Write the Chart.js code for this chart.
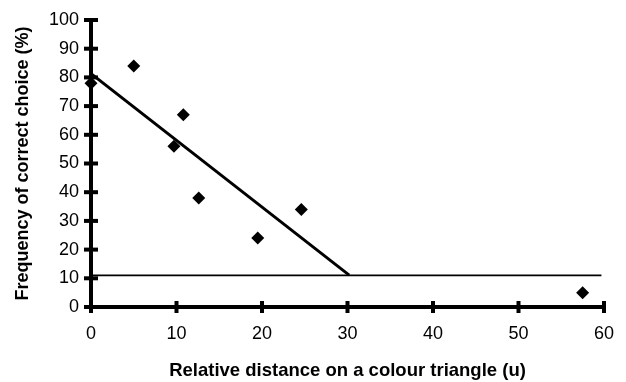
<!DOCTYPE html>
<html>
<head>
<meta charset="utf-8">
<script src="https://cdn.jsdelivr.net/npm/chart.js@4"></script>
<style>
  html, body { margin: 0; padding: 0; background: #fff; }
  #wrap { width: 626px; height: 382px; }
</style>
</head>
<body>
<div id="wrap"><canvas id="graphe"></canvas></div>
<script>
// values
const distances = [0, 5, 10.8, 9.7, 12.6, 19.5, 24.6, 57.5]
const frequences = [78, 84, 67, 56, 38, 24, 34, 5]
const regressionX = [0, 30.2]
const regressionY = [81.3, 11.1]
const hasardX = [0, 59.7]
const hasardY = [11, 11]
const ticksX = [0, 10, 20, 30, 40, 50, 60]
const ticksY = [0, 10, 20, 30, 40, 50, 60, 70, 80, 90, 100]

const versPoints = (xs, ys) => xs.map((x, i) => ({x: x, y: ys[i]}))

// tick marks that cross the axis line on both sides
const croixAxes = {
    id: 'croixAxes',
    afterDatasetsDraw(chart) {
        const ctx = chart.ctx
        const sx = chart.scales.x
        const sy = chart.scales.y
        const y0 = sy.getPixelForValue(0)
        const x0 = sx.getPixelForValue(0)
        ctx.save()
        ctx.strokeStyle = '#000'
        ctx.lineWidth = 4
        ticksX.forEach(v => {
            const px = sx.getPixelForValue(v)
            ctx.beginPath()
            ctx.moveTo(px, y0 - 6)
            ctx.lineTo(px, y0 + 6)
            ctx.stroke()
        })
        ticksY.forEach(v => {
            const py = sy.getPixelForValue(v)
            ctx.beginPath()
            ctx.moveTo(x0 - 7, py)
            ctx.lineTo(x0 + 7, py)
            ctx.stroke()
        })
        ctx.restore()
    }
}

Chart.defaults.font.family = "'Liberation Sans', Arial, sans-serif"
Chart.defaults.color = '#000'

new Chart(document.getElementById('graphe'), {
    type: 'scatter',
    data: {
        datasets: [
            {
                data: versPoints(distances, frequences),
                pointStyle: 'rectRot',
                pointRadius: 6.5,
                backgroundColor: '#000',
                borderColor: '#000',
                borderWidth: 0,
                clip: false
            },
            {
                data: versPoints(regressionX, regressionY),
                showLine: true,
                pointRadius: 0,
                borderColor: '#000',
                borderWidth: 3,
                clip: false
            },
            {
                data: versPoints(hasardX, hasardY),
                showLine: true,
                pointRadius: 0,
                borderColor: '#000',
                borderWidth: 1.8,
                clip: false
            }
        ]
    },
    options: {
        responsive: true,
        maintainAspectRatio: false,
        animation: false,
        layout: { padding: { top: 20, right: 22, left: 0, bottom: 0 } },
        plugins: { legend: { display: false }, tooltip: { enabled: false } },
        scales: {
            x: {
                type: 'linear',
                min: 0,
                max: 60,
                afterFit: s => { s.height = 75; s.paddingRight = 0; s.paddingLeft = 0 },
                afterBuildTicks: s => { s.ticks = ticksX.map(v => ({value: v})) },
                grid: { display: false, drawTicks: false },
                border: { display: true, color: '#000', width: 4 },
                ticks: { padding: 16, font: { size: 18 } },
                title: {
                    display: true,
                    text: 'Relative distance on a colour triangle (u)',
                    font: { size: 18.5, weight: 'bold' },
                    padding: { top: 0, bottom: 0 }
                }
            },
            y: {
                type: 'linear',
                min: 0,
                max: 100,
                afterFit: s => { s.width = 91; s.paddingTop = 0; s.paddingBottom = 0 },
                afterBuildTicks: s => { s.ticks = ticksY.map(v => ({value: v})) },
                grid: { display: false, drawTicks: false },
                border: { display: true, color: '#000', width: 4 },
                ticks: { padding: 12, font: { size: 18 } },
                title: {
                    display: true,
                    text: 'Frequency of correct choice (%)',
                    font: { size: 18, weight: 'bold' },
                    padding: { top: 12, bottom: 0 }
                }
            }
        }
    },
    plugins: [croixAxes]
})
</script>
</body>
</html>
